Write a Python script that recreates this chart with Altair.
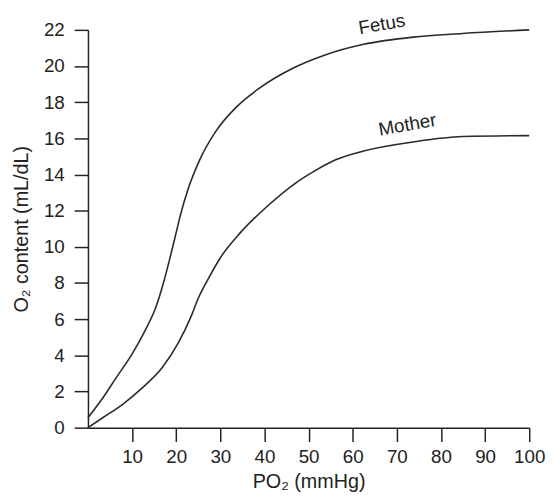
import altair as alt
import pandas as pd

fetus_x = [0, 3.35, 6.3, 10.05, 13.0, 15.3, 17.1, 18.6, 20.1, 21.0, 22.7, 25.3, 29.0, 33.5, 38.7, 46.2, 53.6, 62.5, 73.7, 84.9, 100]
fetus_y = [0.55, 1.64, 2.73, 4.1, 5.4, 6.6, 8.0, 9.4, 10.9, 11.8, 13.2, 14.8, 16.4, 17.7, 18.75, 19.85, 20.6, 21.2, 21.6, 21.8, 22.0]

mother_x = [0, 3.35, 7.8, 12.3, 16.75, 20.5, 23.45, 24.9, 27.2, 30.0, 34.6, 40.9, 46.9, 51.4, 56.0, 62.5, 73.7, 84.9, 100]
mother_y = [0, 0.55, 1.28, 2.2, 3.3, 4.7, 6.2, 7.1, 8.2, 9.4, 10.8, 12.3, 13.5, 14.2, 14.8, 15.3, 15.8, 16.1, 16.15]

label_text = ["Fetus", "Mother"]
label_x = [66.6, 72.4]
label_y = [22.3, 16.75]

x_ticks = [10, 20, 30, 40, 50, 60, 70, 80, 90, 100]
y_ticks = [0, 2, 4, 6, 8, 10, 12, 14, 16, 18, 20, 22]

df = pd.concat([
    pd.DataFrame({"x": fetus_x, "y": fetus_y, "s": "Fetus"}),
    pd.DataFrame({"x": mother_x, "y": mother_y, "s": "Mother"}),
])
labels = pd.DataFrame({"t": label_text, "x": label_x, "y": label_y})

FONT = "Liberation Sans"

xscale = alt.Scale(domain=[0, 100], nice=False)
yscale = alt.Scale(domain=[0, 22], nice=False)

common = dict(tickSize=14, labelFontSize=19, titleFontSize=20, grid=False,
              domainColor="#222", tickColor="#222", labelColor="#222", titleColor="#222",
              labelFont=FONT, titleFont=FONT, titleFontWeight="normal",
              domainWidth=1.5, tickWidth=1.5, labelOverlap=False, labelBound=False,
              labelFlush=False)

xaxis = alt.Axis(values=x_ticks, labelPadding=6, titlePadding=6, **common)
yaxis = alt.Axis(values=y_ticks, labelPadding=10, titlePadding=12, **common)

lines = alt.Chart(df).mark_line(interpolate="monotone", color="#2a2a2a", strokeWidth=1.6).encode(
    x=alt.X("x:Q", scale=xscale, title="PO₂ (mmHg)", axis=xaxis),
    y=alt.Y("y:Q", scale=yscale, title="O₂ content (mL/dL)", axis=yaxis),
    detail="s:N",
)

text = alt.Chart(labels).mark_text(angle=350, fontSize=19, font=FONT, color="#222",
                                    baseline="middle", align="center").encode(
    x=alt.X("x:Q", scale=xscale, title="PO₂ (mmHg)", axis=xaxis),
    y=alt.Y("y:Q", scale=yscale, title="O₂ content (mL/dL)", axis=yaxis),
    text="t:N",
)

chart = (lines + text).properties(
    width=447, height=403,
    autosize=alt.AutoSizeParams(type="none"),
    padding={"left": 81, "top": 19, "right": 17, "bottom": 62},
).configure_view(stroke=None)

chart.save("out.html", embed_options={"renderer": "svg", "actions": False})
